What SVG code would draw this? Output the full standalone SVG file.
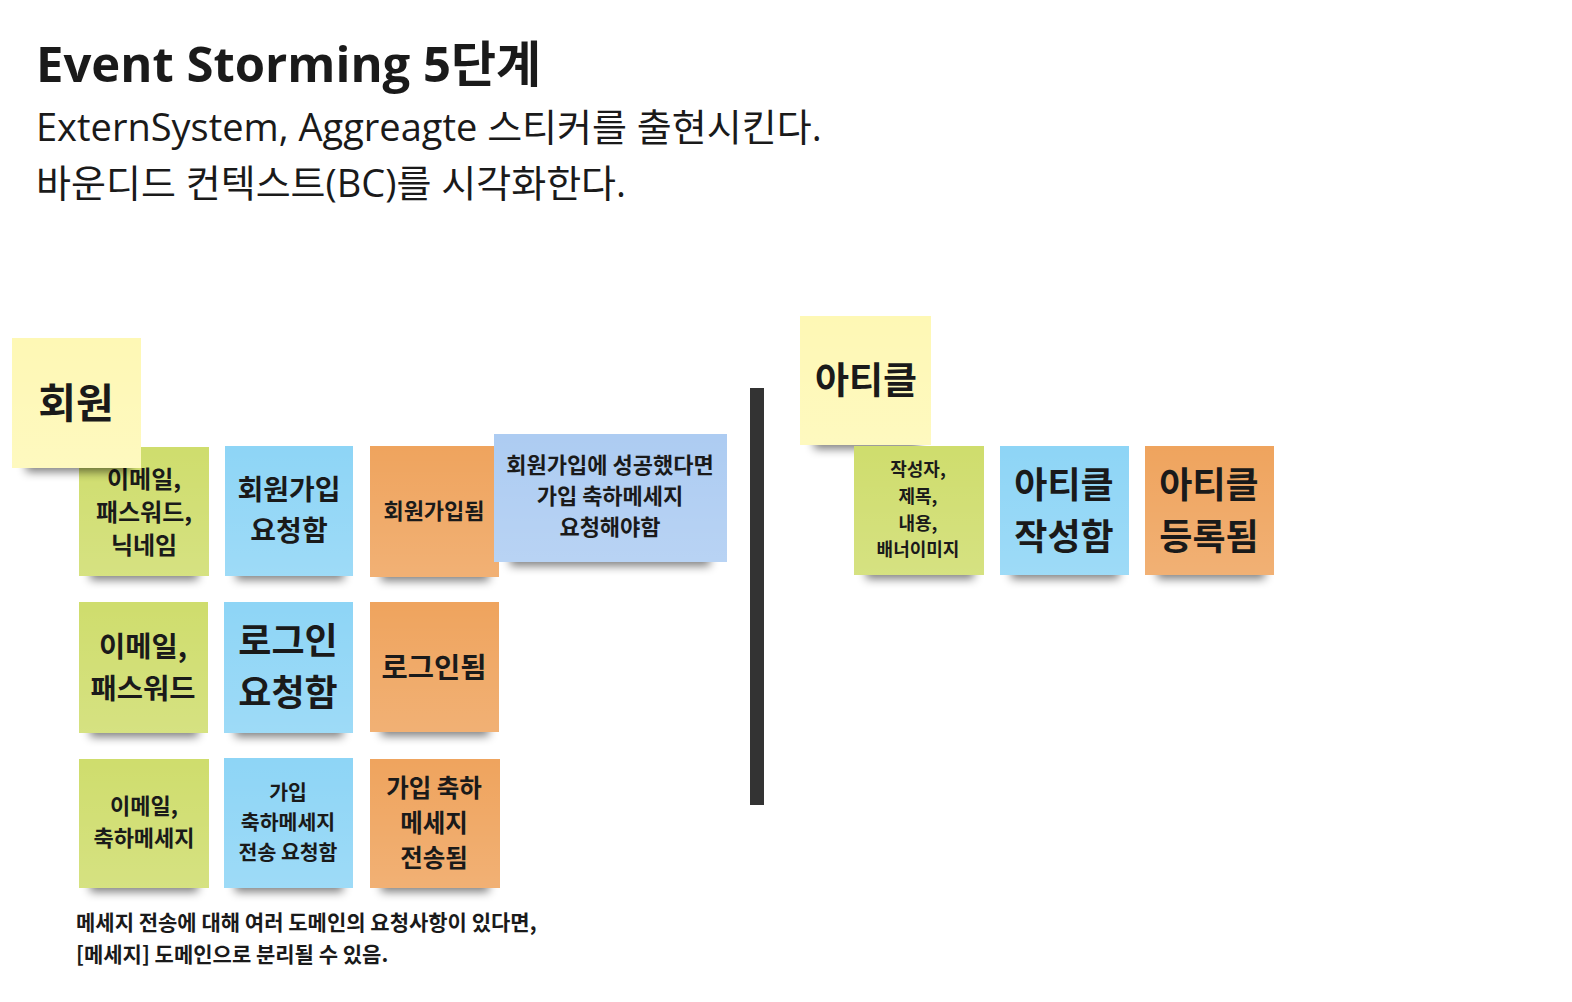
<svg xmlns="http://www.w3.org/2000/svg" width="1572" height="1002" viewBox="0 0 1572 1002">
<defs>
<filter id="blur" x="-20%" y="-100%" width="140%" height="300%"><feGaussianBlur stdDeviation="5"/></filter>
<linearGradient id="sheen" x1="0" y1="0" x2="0" y2="1"><stop offset="0" stop-color="#fff" stop-opacity="0"/><stop offset="1" stop-color="#fff" stop-opacity="0.14"/></linearGradient>
</defs>
<style>
.title{font-family:"Open Sans","Noto Sans CJK KR",sans-serif;font-weight:700;font-size:49px;fill:#1a1a1a}
.sub{font-family:"Open Sans","Noto Sans CJK KR",sans-serif;font-weight:400;font-size:38px;fill:#1a1a1a}
.t{font-family:"Noto Sans CJK KR",sans-serif;font-weight:700;fill:#1a1a1a;text-anchor:middle;dominant-baseline:central}
.note{font-family:"Noto Sans CJK KR",sans-serif;font-weight:700;font-size:21px;fill:#1a1a1a}
.sh{fill:#000;opacity:.5;filter:url(#blur)}
.y{fill:#fef8b5}.g{fill:#cfdd6d}.b{fill:#8ed5f6}.o{fill:#efa45e}.lb{fill:#adccf2}
.sheen{fill:url(#sheen)}
</style>
<rect width="1572" height="1002" fill="#ffffff"/>
<text class="title" x="36" y="82">Event Storming 5단계</text>
<text class="sub" x="36" y="141">ExternSystem, Aggreagte 스티커를 출현시킨다.</text>
<text class="sub" x="36" y="197">바운디드 컨텍스트(BC)를 시각화한다.</text>

<g id="connectors">
<rect x="750" y="388" width="14" height="417" fill="#333333"/>
</g>

<g id="n-green1"><rect class="sh" x="90" y="564" width="108" height="16"/><rect class="g" x="79" y="447" width="130" height="129"/><rect class="sheen" x="79" y="447" width="130" height="129"/>
<text class="t" font-size="24"><tspan x="144" y="477">이메일,</tspan><tspan x="144" y="510">패스워드,</tspan><tspan x="144" y="543">닉네임</tspan></text></g>
<g id="n-yellow-member"><rect class="sh" x="26" y="456" width="105" height="16"/><rect class="y" x="12" y="338" width="129" height="130"/><rect class="sheen" x="12" y="338" width="129" height="130"/>
<text class="t" font-size="41" x="76" y="400">회원</text></g>
<g id="n-blue1"><rect class="sh" x="236" y="564" width="108" height="16"/><rect class="b" x="225" y="446" width="128" height="130"/><rect class="sheen" x="225" y="446" width="128" height="130"/>
<text class="t" font-size="28"><tspan x="289" y="488">회원가입</tspan><tspan x="289" y="529">요청함</tspan></text></g>
<g id="n-orange1"><rect class="sh" x="381" y="565" width="108" height="16"/><rect class="o" x="370" y="446" width="129" height="131"/><rect class="sheen" x="370" y="446" width="129" height="131"/>
<text class="t" font-size="22" x="434" y="509">회원가입됨</text></g>
<g id="n-policy"><rect class="sh" x="510" y="550" width="200" height="16"/><rect class="lb" x="494" y="434" width="233" height="128"/><rect class="sheen" x="494" y="434" width="233" height="128"/>
<text class="t" font-size="22"><tspan x="610" y="463">회원가입에 성공했다면</tspan><tspan x="610" y="494">가입 축하메세지</tspan><tspan x="610" y="525">요청해야함</tspan></text></g>

<g id="n-green2"><rect class="sh" x="90" y="721" width="108" height="16"/><rect class="g" x="79" y="602" width="129" height="131"/><rect class="sheen" x="79" y="602" width="129" height="131"/>
<text class="t" font-size="28.5"><tspan x="143" y="644">이메일,</tspan><tspan x="143" y="686">패스워드</tspan></text></g>
<g id="n-blue2"><rect class="sh" x="235" y="721" width="108" height="16"/><rect class="b" x="224" y="602" width="129" height="131"/><rect class="sheen" x="224" y="602" width="129" height="131"/>
<text class="t" font-size="36"><tspan x="288" y="638">로그인</tspan><tspan x="288" y="690">요청함</tspan></text></g>
<g id="n-orange2"><rect class="sh" x="381" y="720" width="108" height="16"/><rect class="o" x="370" y="602" width="129" height="130"/><rect class="sheen" x="370" y="602" width="129" height="130"/>
<text class="t" font-size="28.5" x="434" y="665">로그인됨</text></g>

<g id="n-green3"><rect class="sh" x="90" y="876" width="108" height="16"/><rect class="g" x="79" y="759" width="130" height="129"/><rect class="sheen" x="79" y="759" width="130" height="129"/>
<text class="t" font-size="22"><tspan x="144" y="804">이메일,</tspan><tspan x="144" y="836">축하메세지</tspan></text></g>
<g id="n-blue3"><rect class="sh" x="235" y="876" width="108" height="16"/><rect class="b" x="224" y="758" width="129" height="130"/><rect class="sheen" x="224" y="758" width="129" height="130"/>
<text class="t" font-size="20.5"><tspan x="288" y="791">가입</tspan><tspan x="288" y="821">축하메세지</tspan><tspan x="288" y="851">전송 요청함</tspan></text></g>
<g id="n-orange3"><rect class="sh" x="381" y="876" width="108" height="16"/><rect class="o" x="370" y="759" width="130" height="129"/><rect class="sheen" x="370" y="759" width="130" height="129"/>
<text class="t" font-size="24.5"><tspan x="434" y="786">가입 축하</tspan><tspan x="434" y="821">메세지</tspan><tspan x="434" y="856">전송됨</tspan></text></g>

<g id="n-note"><text class="note"><tspan x="76" y="930">메세지 전송에 대해 여러 도메인의 요청사항이 있다면,</tspan><tspan x="76" y="962">[메세지] 도메인으로 분리될 수 있음.</tspan></text></g>

<g id="n-yellow-article"><rect class="sh" x="814" y="433" width="105" height="16"/><rect class="y" x="800" y="316" width="131" height="129"/><rect class="sheen" x="800" y="316" width="131" height="129"/>
<text class="t" font-size="37" x="866" y="378">아티클</text></g>
<g id="n-green-article"><rect class="sh" x="866" y="563" width="108" height="16"/><rect class="g" x="854" y="446" width="130" height="129"/><rect class="sheen" x="854" y="446" width="130" height="129"/>
<text class="t" font-size="18"><tspan x="918" y="468">작성자,</tspan><tspan x="918" y="495">제목,</tspan><tspan x="918" y="522">내용,</tspan><tspan x="918" y="548">배너이미지</tspan></text></g>
<g id="n-blue-article"><rect class="sh" x="1011" y="563" width="108" height="16"/><rect class="b" x="1000" y="446" width="129" height="129"/><rect class="sheen" x="1000" y="446" width="129" height="129"/>
<text class="t" font-size="36"><tspan x="1064" y="482">아티클</tspan><tspan x="1064" y="534">작성함</tspan></text></g>
<g id="n-orange-article"><rect class="sh" x="1157" y="563" width="108" height="16"/><rect class="o" x="1145" y="446" width="129" height="129"/><rect class="sheen" x="1145" y="446" width="129" height="129"/>
<text class="t" font-size="36"><tspan x="1209" y="482">아티클</tspan><tspan x="1209" y="534">등록됨</tspan></text></g>
</svg>
